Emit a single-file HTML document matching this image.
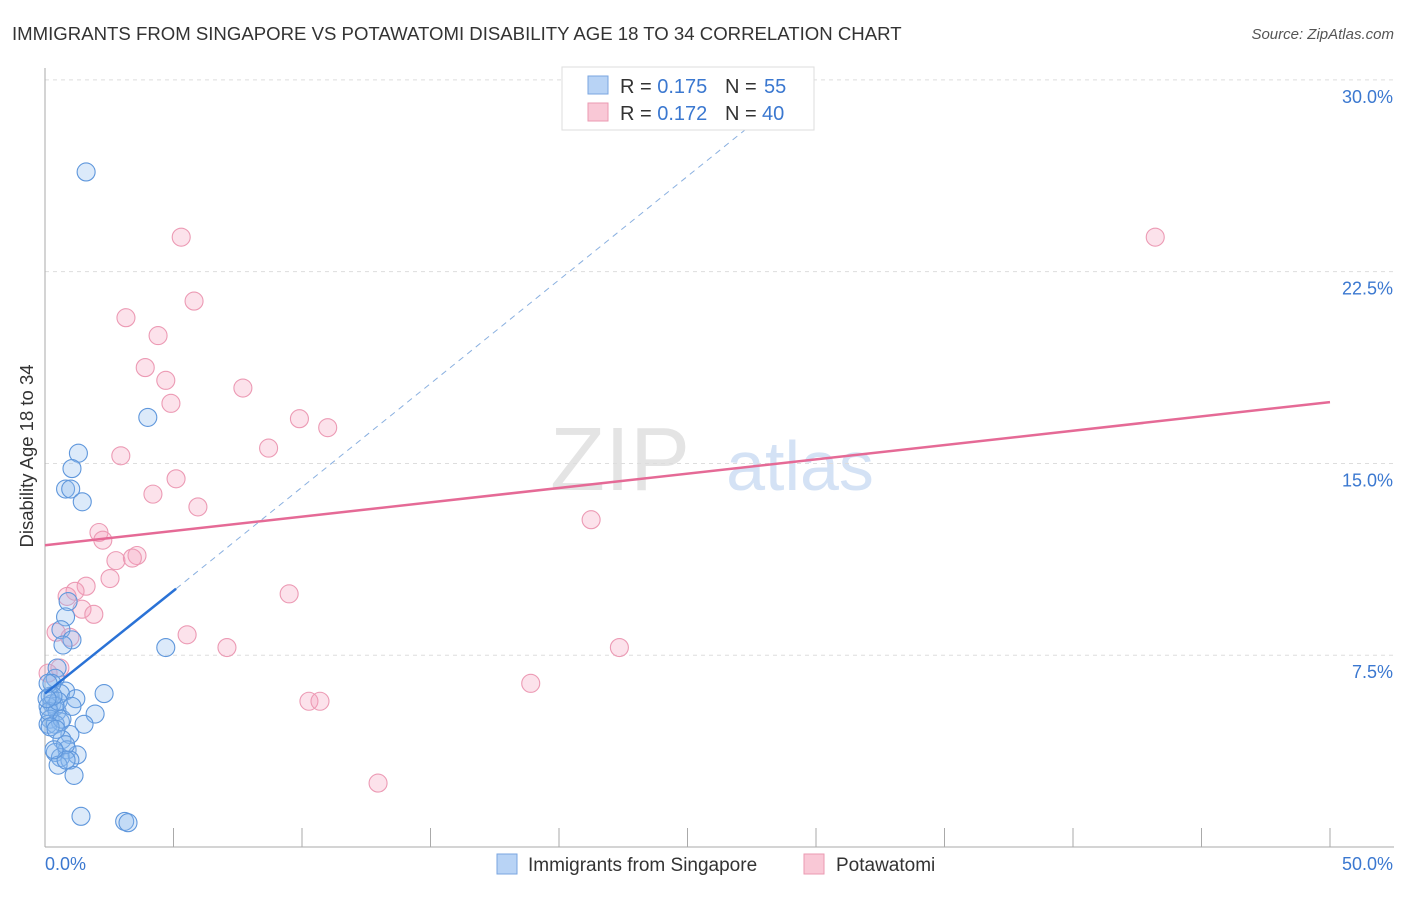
<!DOCTYPE html>
<html><head><meta charset="utf-8"><style>
body{margin:0;background:#fff;font-family:"Liberation Sans",sans-serif;}
svg text{font-family:"Liberation Sans",sans-serif;}
</style></head><body>
<svg id="c" width="1406" height="892">
<text x="12" y="40" font-size="18.6" fill="#333">IMMIGRANTS FROM SINGAPORE VS POTAWATOMI DISABILITY AGE 18 TO 34 CORRELATION CHART</text>
<text x="1394" y="39" font-size="15" fill="#555" text-anchor="end" font-style="italic">Source: ZipAtlas.com</text>
<text x="620" y="490" font-size="90" fill="#e4e4e4" font-family="Liberation Serif" text-anchor="middle">ZIP</text>
<text x="800" y="490" font-size="70" fill="#d4e2f5" text-anchor="middle">atlas</text>
<text transform="translate(33,456) rotate(-90)" font-size="18.5" fill="#333" text-anchor="middle">Disability Age 18 to 34</text>
<g id="grid"></g><g id="pts"></g><g id="lines"></g>
<g>
<rect x="562" y="67" width="252" height="63" fill="#fff" stroke="#ddd"/>
<rect x="588" y="76" width="20" height="18" fill="#b8d3f5" stroke="#7aa6e0"/>
<rect x="588" y="103" width="20" height="18" fill="#f9c8d6" stroke="#eb9ab2"/>
<text x="620" y="93" font-size="20" fill="#333">R = <tspan fill="#3b78d0">0.175</tspan></text>
<text x="725" y="93" font-size="20" fill="#333">N = <tspan x="764" fill="#3b78d0">55</tspan></text>
<text x="620" y="120" font-size="20" fill="#333">R = <tspan fill="#3b78d0">0.172</tspan></text>
<text x="725" y="120" font-size="20" fill="#333">N = <tspan x="762" fill="#3b78d0">40</tspan></text>
</g>
<g>
<rect x="497" y="854" width="20" height="20" fill="#b8d3f5" stroke="#7aa6e0"/>
<text x="528" y="871" font-size="19" fill="#333">Immigrants from Singapore</text>
<rect x="804" y="854" width="20" height="20" fill="#f9c8d6" stroke="#eb9ab2"/>
<text x="836" y="871" font-size="19" fill="#333">Potawatomi</text>
</g>
</svg>
<script>
const blueX=[1.6,4,1.3,1.05,0.8,1,1.45,0.9,0.8,0.62,1.05,0.7,4.7,0.47,0.4,2.3,0.8,0.6,1.2,0.2,0.27,0.4,0.12,0.47,1.95,0.2,0.6,1.52,0.12,0.4,0.97,0.66,0.86,0.4,0.6,1.25,0.97,0.51,1.13,1.4,3.1,3.23,0.27,0.16,0.51,0.8,0.12,0.66,0.2,0.31,0.08,0.43,0.82,1.05,0.35];
const blueY=[26.4,16.8,15.4,14.8,14.0,14.0,13.5,9.6,9.0,8.5,8.1,7.9,7.8,7.0,6.6,6.0,6.1,6.0,5.8,5.9,5.6,5.5,5.5,5.3,5.2,5.0,4.9,4.8,4.8,4.8,4.4,4.2,3.8,3.7,3.5,3.6,3.4,3.2,2.8,1.2,1.0,0.95,6.4,5.3,5.7,4.0,6.4,5.0,4.7,5.9,5.8,4.6,3.4,5.5,3.8];
const pinkX=[5.3,43.2,5.8,3.15,4.4,3.9,4.7,7.7,4.9,9.9,11,8.7,2.95,5.1,4.2,5.95,21.25,2.1,2.25,3.58,2.76,3.4,2.53,1.6,1.17,0.86,1.44,1.9,0.43,0.97,5.53,9.5,7.08,0.58,0.12,22.35,18.9,10.27,10.7,12.96];
const pinkY=[23.85,23.85,21.35,20.7,20.0,18.75,18.25,17.95,17.35,16.75,16.4,15.6,15.3,14.4,13.8,13.3,12.8,12.3,12.0,11.4,11.2,11.3,10.5,10.2,10.0,9.8,9.3,9.1,8.4,8.2,8.3,9.9,7.8,7.0,6.8,7.8,6.4,5.7,5.7,2.5];
const yTicks=[7.5,15,22.5,30];
const xTickVals=[0,5,10,15,20,25,30,35,40,45,50];
const X=v=>45+v*25.7, Y=v=>847-v*25.57;
const NS="http://www.w3.org/2000/svg";
function mk(t,a,p){const e=document.createElementNS(NS,t);for(const k in a)e.setAttribute(k,a[k]);p.appendChild(e);return e;}
const g=document.getElementById('grid'),pts=document.getElementById('pts'),ln=document.getElementById('lines');
yTicks.forEach(v=>{const l=mk('line',{x1:45,x2:1394,y1:Y(v),y2:Y(v),stroke:'#ddd','stroke-dasharray':'4,4'},g);


const t=mk('text',{x:1393,y:Y(v)+23,'font-size':18,fill:'#3b78d0','text-anchor':'end'},g);t.textContent=v.toFixed(1)+'%';

});
mk('line',{x1:45,x2:45,y1:68,y2:847,stroke:'#aaa'},g);
mk('line',{x1:45,x2:1394,y1:847,y2:847,stroke:'#aaa'},g);
xTickVals.forEach(v=>{const l=mk('line',{x1:X(v),x2:X(v),y1:828,y2:847,stroke:'#aaa'},g);

});
[[0,'0.0%','start',45],[50,'50.0%','end',1393]].forEach(([v,s,a,x])=>{const t=mk('text',{x:x,y:870,'font-size':18,fill:'#3b78d0','text-anchor':a},g);t.textContent=s;

});
pinkX.forEach((v,i)=>{const c=mk('circle',{cx:X(v),cy:Y(pinkY[i]),r:9,fill:'rgba(244,160,188,0.3)',stroke:'#ec9ab4','stroke-width':1.1},pts);

});
blueX.forEach((v,i)=>{const c=mk('circle',{cx:X(v),cy:Y(blueY[i]),r:9,fill:'rgba(140,184,240,0.3)',stroke:'#5f97dc','stroke-width':1.1},pts);

});
let l=mk('line',{x1:X(0),y1:Y(11.8),x2:X(50),y2:Y(17.4),stroke:'#e56a96','stroke-width':2.5},ln);


l=mk('line',{x1:X(5.1),y1:Y(10.1),x2:X(27.8),y2:Y(28.5),stroke:'#8ab0e0','stroke-width':1,'stroke-dasharray':'6,5'},ln);


l=mk('line',{x1:X(0),y1:Y(6.0),x2:X(5.1),y2:Y(10.1),stroke:'#2a72d6','stroke-width':2.5},ln);


</script>
</body></html>
